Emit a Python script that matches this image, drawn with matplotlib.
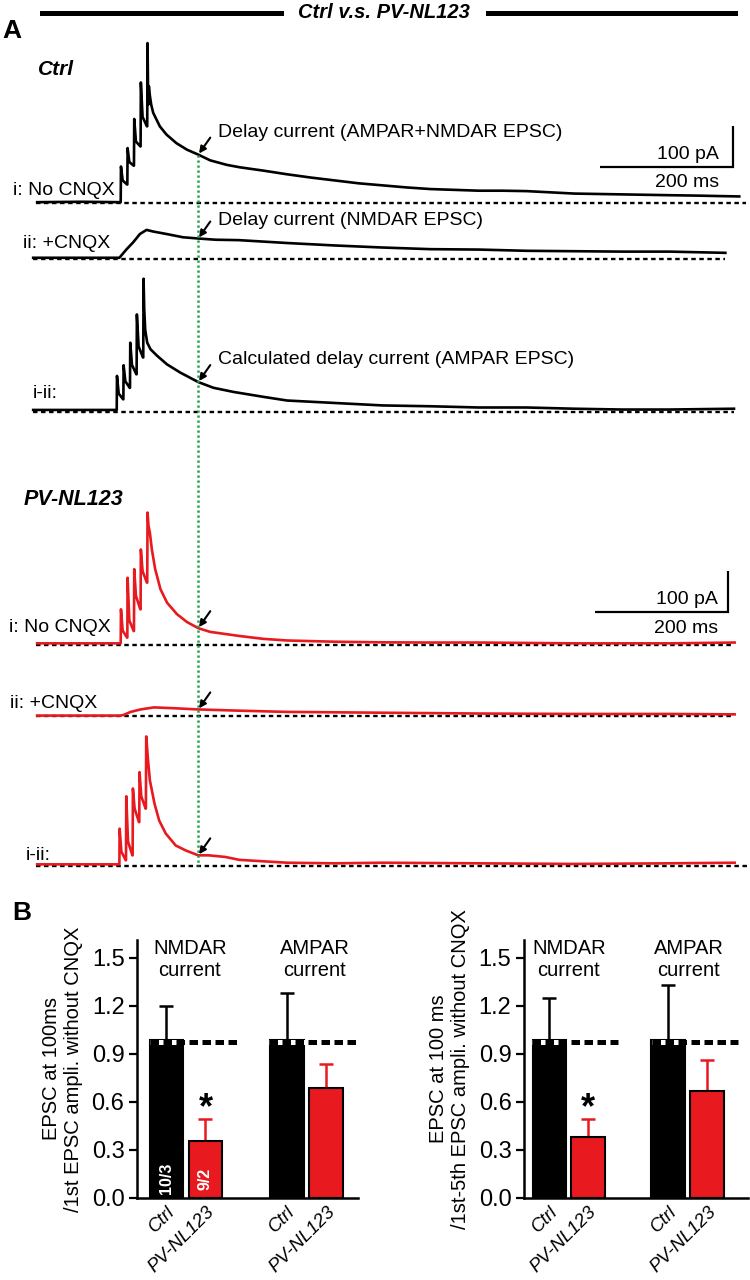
import numpy as np
import matplotlib
matplotlib.use('Agg')
import matplotlib.pyplot as plt
from matplotlib.lines import Line2D

plt.rcParams['font.family'] = ['Liberation Sans', 'DejaVu Sans']

# ------------------------------------------------------------------ data
# Panel A traces: time (ms, first stimulus = 0) and current (pA)
ctrl_i_t = [-126, -60, 0, 0.4, 3, 9.6, 10, 10.4, 13, 19.6, 20, 20.4, 23, 29.6, 30, 30.4, 33, 39.6,
            40, 40.5, 41.5, 42.5, 44, 46, 49, 59, 69, 84, 100, 117, 135, 160, 180, 215, 251, 287,
            323, 359, 395, 431, 467, 504, 540, 576, 612, 648, 684, 720, 756, 792, 828, 870, 900, 933]
ctrl_i_pA = [2, 3, 2, 89, 55, 45, 45, 134, 100, 91, 91, 205, 150, 138, 138, 294, 210, 187,
             187, 390, 240, 285, 262, 240, 220, 187, 167, 146, 130, 118, 104, 93, 87, 79, 70, 62,
             55, 48, 43, 38, 34, 32, 30, 30, 29, 26, 23, 22, 21, 20, 19, 18, 17, 16]

ctrl_ii_t = [-132, -60, -2, 9, 19, 29, 39, 49, 69, 94, 117, 143, 178, 251, 323, 395, 467, 540,
             612, 684, 756, 828, 912]
ctrl_ii_pA = [3, 3, 3, 24, 41, 61, 71, 67, 61, 53, 50, 47, 46, 39, 33, 28, 24, 23,
              20, 19, 18, 18, 15]

ctrl_iii_t = [-132, -60, -6, -5.6, -3, 3.6, 4, 4.4, 7, 13.6, 14, 14.4, 17, 23.6, 24, 24.4, 27, 33.6,
              34, 34.5, 35.5, 37, 40, 45, 55, 70, 90, 117, 140, 170, 215, 251, 287, 323, 359, 395,
              467, 540, 612, 684, 756, 828, 925]
ctrl_iii_pA = [5, 5, 5, 88, 45, 31, 31, 114, 75, 59, 59, 169, 115, 92, 92, 238, 160, 133,
               133, 325, 250, 200, 169, 153, 137, 116, 96, 73, 59, 49, 37, 28, 25, 22, 19, 16,
               14, 11, 11, 8, 6, 6, 8]

pv_i_t = [-126, -60, 0, 0.4, 3, 9.6, 10, 10.4, 13, 19.6, 20, 20.4, 23, 29.6, 30, 30.4, 33, 39.6,
          40, 40.5, 42, 44, 47, 52, 60, 70, 85, 100, 117, 135, 179, 215, 251, 323, 395, 467,
          540, 612, 684, 756, 828, 926]
pv_i_pA = [4, 4, 4, 87, 35, 18, 18, 164, 60, 34, 34, 185, 120, 87, 87, 233, 180, 152,
           152, 323, 290, 274, 233, 185, 136, 103, 75, 56, 41, 32, 22, 15, 11, 8, 6.5, 6,
           6, 5, 4, 4, 4, 6]

pv_ii_t = [-126, -60, 0, 5, 15, 30, 50, 80, 117, 179, 251, 323, 395, 540, 684, 828, 926]
pv_ii_pA = [1, 1, 1, 3, 10, 16, 21, 19, 16, 13, 10, 9, 8, 6, 5, 5, 4]

pv_iii_t = [-126, -60, -2, -1.6, 1, 7.6, 8, 8.4, 11, 17.6, 18, 18.4, 21, 27.6, 28, 28.4, 31, 37.6,
            38, 38.5, 41, 44, 51, 58, 68, 83, 98, 117, 133, 158, 179, 251, 323, 395, 540, 684,
            828, 926]
pv_iii_pA = [4, 4, 4, 91, 35, 14, 14, 170, 60, 26, 26, 189, 140, 107, 107, 229, 170, 140,
             140, 316, 262, 209, 152, 111, 79, 50, 38, 26, 26, 22, 15, 8, 6.5, 8, 6.5, 5,
             6.5, 8]

measure_t = 117          # ms, time of the delayed-current measurement (green line)

trace_labels = ['i: No CNQX', 'ii: +CNQX', 'i-ii:', 'i: No CNQX', 'ii: +CNQX', 'i-ii:']
trace_notes = ['Delay current (AMPAR+NMDAR EPSC)', 'Delay current (NMDAR EPSC)',
               'Calculated delay current (AMPAR EPSC)']

# Panel B bar data
bar_labels = ['Ctrl', 'PV-NL123', 'Ctrl', 'PV-NL123']
group_labels = ['NMDAR\ncurrent', 'AMPAR\ncurrent']
b1_ctrl_mean = [0.99, 0.99]
b1_ctrl_err = [0.21, 0.29]
b1_pv_mean = [0.355, 0.69]
b1_pv_err = [0.14, 0.145]
b2_ctrl_mean = [0.99, 0.99]
b2_ctrl_err = [0.26, 0.34]
b2_pv_mean = [0.38, 0.67]
b2_pv_err = [0.115, 0.19]
ref_level = 0.972
yticks_b = [0.0, 0.3, 0.6, 0.9, 1.2, 1.5]
n_labels = ['10/3', '9/2']

# ------------------------------------------------------------------ layout helpers
W, H = 750, 1280
fig = plt.figure(figsize=(7.5, 12.8), dpi=100)


def fx(px):
    return px / W


def fy(py):
    return 1 - py / H


RED = '#e8191f'
GREEN = '#22a04e'

# ------------------------------------------------------------------ header
fig.add_artist(Line2D([fx(42), fx(281)], [fy(13), fy(13)], color='black', lw=3.6))
fig.add_artist(Line2D([fx(488), fx(735)], [fy(13), fy(13)], color='black', lw=3.6))
fig.text(fx(384), fy(13), 'Ctrl v.s. PV-NL123', ha='center', va='center',
         fontsize=14.5, fontweight='bold', fontstyle='italic')
fig.text(fx(2), fy(38), 'A', fontsize=19, fontweight='bold', va='baseline')
fig.text(fx(12), fy(920), 'B', fontsize=19, fontweight='bold', va='baseline')
fig.text(fx(38), fy(75), 'Ctrl', fontsize=15, fontweight='bold', fontstyle='italic', va='baseline')
fig.text(fx(24), fy(505), 'PV-NL123', fontsize=15.5, fontweight='bold', fontstyle='italic',
         va='baseline')

# ------------------------------------------------------------------ panel A traces
px_per_ms = 0.663
px_per_pA = 0.41
x0_px = 120.7           # pixel of t = 0
y0_px = 203             # pixel of Ctrl i baseline
top_px, bot_px = 30, 880
axA = fig.add_axes([0, fy(bot_px), 1, (bot_px - top_px) / H])
axA.set_xlim((0 - x0_px) / px_per_ms, (W - x0_px) / px_per_ms)
axA.set_ylim((y0_px - bot_px) / px_per_pA, (y0_px - top_px) / px_per_pA)
axA.axis('off')


def t_of(px):
    return (px - x0_px) / px_per_ms


def pA_of(py):
    return (y0_px - py) / px_per_pA


baseline_px = [203, 259, 412, 645, 716, 866]
offsets = [pA_of(p) for p in baseline_px]
dash_ext_px = [(36, 746), (33, 725), (33, 734), (36, 734), (36, 734), (36, 749)]
traces = [(ctrl_i_t, ctrl_i_pA), (ctrl_ii_t, ctrl_ii_pA), (ctrl_iii_t, ctrl_iii_pA),
          (pv_i_t, pv_i_pA), (pv_ii_t, pv_ii_pA), (pv_iii_t, pv_iii_pA)]
colors = ['black'] * 3 + [RED] * 3
label_pos_px = [(13, 195), (23, 248), (33, 398), (9, 632), (10, 708), (26, 860)]

for k, ((t, I), off, col) in enumerate(zip(traces, offsets, colors)):
    a, b = dash_ext_px[k]
    axA.plot([t_of(a), t_of(b)], [off, off], color='black', lw=1.7,
             linestyle=(0, (1.9, 1.5)), zorder=2)
    axA.plot(t, np.array(I) + off, color=col, lw=1.9, zorder=3)
    lx, ly = label_pos_px[k]
    axA.text(t_of(lx), pA_of(ly), trace_labels[k], fontsize=14, va='baseline', ha='left')

# green measurement line
y_top = np.interp(measure_t, ctrl_i_t, ctrl_i_pA) + offsets[0]
axA.plot([measure_t, measure_t], [y_top, offsets[5]], color=GREEN, lw=1.8,
         linestyle=(0, (0.9, 1.1)), zorder=4)

# arrows
for (t, I), off in zip(traces, offsets):
    yv = np.interp(measure_t, t, I) + off
    axA.annotate('', xy=(measure_t, yv), xytext=(12, 17), textcoords='offset pixels',
                 arrowprops=dict(arrowstyle='-|>', color='black', lw=1.5, mutation_scale=10,
                                 shrinkA=0, shrinkB=1), zorder=5)

# notes
note_px = [(218, 137), (218, 225), (218, 364)]
for txt, (nx, ny) in zip(trace_notes, note_px):
    axA.text(t_of(nx), pA_of(ny), txt, fontsize=14, va='baseline', ha='left')

# scale bars
for corner_px, txt_px in [((733, 167), (719, 159, 187)), ((728, 612), (718, 604, 633))]:
    cx, cy = t_of(corner_px[0]), pA_of(corner_px[1])
    axA.plot([cx - 200, cx, cx], [cy, cy, cy + 100], color='black', lw=1.6,
             solid_joinstyle='miter', solid_capstyle='butt')
    axA.text(t_of(txt_px[0]), pA_of(txt_px[1]), '100 pA', fontsize=14, ha='right', va='baseline')
    axA.text(t_of(txt_px[0]), pA_of(txt_px[2]), '200 ms', fontsize=14, ha='right', va='baseline')

# ------------------------------------------------------------------ panel B bars
positions = [0, 1, 3.08, 4.1]


def bar_panel(left_px, right_px, xlim, ctrl_m, ctrl_e, pv_m, pv_e, ylabel, ref_spans,
              group_x, star_x, n_text):
    ax = fig.add_axes([fx(left_px), fy(1198), (right_px - left_px) / W, (1198 - 940) / H])
    means = [ctrl_m[0], pv_m[0], ctrl_m[1], pv_m[1]]
    errs = [ctrl_e[0], pv_e[0], ctrl_e[1], pv_e[1]]
    cols = ['black', RED, 'black', RED]
    for x, m, e, c in zip(positions, means, errs, cols):
        ax.errorbar(x, m, yerr=[[0], [e]], fmt='none', ecolor=c, elinewidth=1.8,
                    capsize=5, capthick=1.8, zorder=2)
    ax.bar(positions, means, width=0.87, color=cols, edgecolor='black', linewidth=1.5, zorder=3)
    for a, b in ref_spans:
        ax.plot([a, b], [ref_level, ref_level], color='white', lw=3.6, zorder=4,
                solid_capstyle='butt')
        ax.plot([a, b], [ref_level, ref_level], color='black', lw=3.6, zorder=5,
                linestyle=(0, (1.7, 0.9)))
    ax.set_xlim(*xlim)
    ax.set_ylim(0, 1.6125)
    ax.set_yticks(yticks_b)
    ax.set_yticklabels([f'{v:.1f}' for v in yticks_b], fontsize=17)
    ax.set_xticks(positions)
    ax.set_xticklabels(bar_labels, fontsize=13.5, fontstyle='italic', rotation=45,
                       ha='right', rotation_mode='anchor')
    ax.tick_params(axis='x', length=0, pad=4)
    ax.tick_params(axis='y', length=6, width=1.6, direction='out', pad=3)
    for s in ['top', 'right']:
        ax.spines[s].set_visible(False)
    for s in ['left', 'bottom']:
        ax.spines[s].set_linewidth(1.8)
    ax.set_ylabel(ylabel, fontsize=14.5, labelpad=6, linespacing=1.25)
    for gx, gl in zip(group_x, group_labels):
        ax.text(gx, 1.49, gl, ha='center', va='center', fontsize=14.5, linespacing=1.2)
    ax.text(star_x, 0.56, '*', ha='center', va='center', fontsize=26, fontweight='bold')
    if n_text:
        for x, lab in zip(positions[:2], n_text):
            ax.text(x, 0.12, lab, rotation=90, ha='center', va='center', color='white',
                    fontsize=11.5, fontweight='bold')
    return ax


bar_panel(137, 358, (-0.756, 4.91), b1_ctrl_mean, b1_ctrl_err, b1_pv_mean, b1_pv_err,
          'EPSC at 100ms\n/1st EPSC ampli. without CNQX',
          [(-0.42, 1.8), (2.63, 4.85)], [0.6, 3.8], 1.0, n_labels)
bar_panel(524, 748, (-0.662, 5.16), b2_ctrl_mean, b2_ctrl_err, b2_pv_mean, b2_pv_err,
          'EPSC at 100 ms\n/1st-5th EPSC ampli. without CNQX',
          [(-0.45, 1.78), (2.66, 4.9)], [0.5, 3.62], 1.0, None)

fig.savefig('out.png', dpi=100)
